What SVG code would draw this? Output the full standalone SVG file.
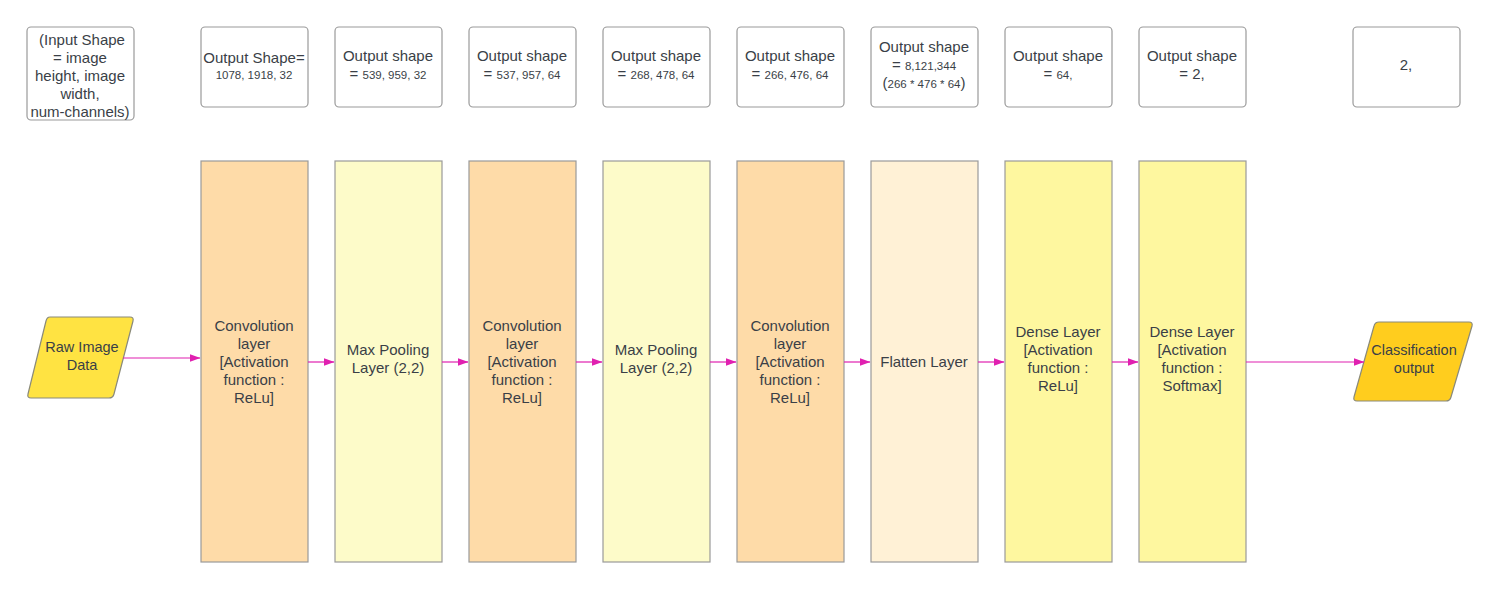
<svg xmlns="http://www.w3.org/2000/svg" width="1500" height="589" viewBox="0 0 1500 589">
<defs>
<style>
.box{fill:#ffffff;stroke:#9a9a9a;stroke-width:1.2}
.lay{stroke:#9a9a9a;stroke-width:1.2}
.conv{fill:#fedba8}
.pool{fill:#fdfbc9}
.flat{fill:#fff1d6}
.dense{fill:#fef79f}
text{font-family:"Liberation Sans",Arial,sans-serif;fill:#3a3f47;text-anchor:middle}
.t{font-size:15px}
.s{font-size:11.5px}
.conn line{stroke:#e020b0;stroke-width:1.2;fill:none}
</style>
<marker id="ah" markerWidth="11" markerHeight="8" refX="10.5" refY="4" orient="auto" markerUnits="userSpaceOnUse">
<path d="M0,0 L11,4 L0,8 Z" fill="#e020b0"/>
</marker>
</defs>
<rect width="1500" height="589" fill="#ffffff"/>

<g id="shape-input">
<rect class="box" x="27" y="27" width="107" height="93" rx="4"/>
<text class="t" x="82" y="45">(Input Shape</text>
<text class="t" x="80" y="63">= image</text>
<text class="t" x="80" y="81">height, image</text>
<text class="t" x="80" y="99">width,</text>
<text class="t" x="80" y="117">num-channels)</text>
</g>
<g id="shape-1">
<rect class="box" x="201" y="27" width="107" height="80" rx="4"/>
<text class="t" x="254" y="63">Output Shape=</text>
<text class="s" x="254" y="79">1078, 1918, 32</text>
</g>
<g id="shape-2">
<rect class="box" x="335" y="27" width="107" height="80" rx="4"/>
<text class="t" x="388" y="61">Output shape</text>
<text x="388" y="79"><tspan class="t">= </tspan><tspan class="s">539, 959, 32</tspan></text>
</g>
<g id="shape-3">
<rect class="box" x="469" y="27" width="107" height="80" rx="4"/>
<text class="t" x="522" y="61">Output shape</text>
<text x="522" y="79"><tspan class="t">= </tspan><tspan class="s">537, 957, 64</tspan></text>
</g>
<g id="shape-4">
<rect class="box" x="603" y="27" width="107" height="80" rx="4"/>
<text class="t" x="656" y="61">Output shape</text>
<text x="656" y="79"><tspan class="t">= </tspan><tspan class="s">268, 478, 64</tspan></text>
</g>
<g id="shape-5">
<rect class="box" x="737" y="27" width="107" height="80" rx="4"/>
<text class="t" x="790" y="61">Output shape</text>
<text x="790" y="79"><tspan class="t">= </tspan><tspan class="s">266, 476, 64</tspan></text>
</g>
<g id="shape-6">
<rect class="box" x="871" y="27" width="107" height="80" rx="4"/>
<text class="t" x="924" y="52">Output shape</text>
<text x="924" y="70"><tspan class="t">= </tspan><tspan class="s">8,121,344</tspan></text>
<text x="924" y="88"><tspan class="t">(</tspan><tspan class="s">266 * 476 * 64</tspan><tspan class="t">)</tspan></text>
</g>
<g id="shape-7">
<rect class="box" x="1005" y="27" width="107" height="80" rx="4"/>
<text class="t" x="1058" y="61">Output shape</text>
<text x="1058" y="79"><tspan class="t">= </tspan><tspan class="s">64,</tspan></text>
</g>
<g id="shape-8">
<rect class="box" x="1139" y="27" width="107" height="80" rx="4"/>
<text class="t" x="1192" y="61">Output shape</text>
<text class="t" x="1192" y="79">= 2,</text>
</g>
<g id="shape-out">
<rect class="box" x="1353" y="27" width="107" height="80" rx="4"/>
<text class="t" x="1406" y="70">2,</text>
</g>

<g id="raw">
<path d="M50,317 L130,317 Q134,317 133,321 L114,394 Q113,398 109,398 L31,398 Q27,398 28,394 L46,321 Q47,317 50,317 Z" fill="#ffe342" stroke="#8a8a7a" stroke-width="1.2"/>
<text class="t" x="82" y="352" style="font-size:14.5px">Raw Image</text>
<text class="t" x="82" y="370" style="font-size:14.5px">Data</text>
</g>

<g id="conv1">
<rect class="lay conv" x="201" y="161" width="107" height="401"/>
<text class="t" x="254" y="331">Convolution</text>
<text class="t" x="254" y="349">layer</text>
<text class="t" x="254" y="367">[Activation</text>
<text class="t" x="254" y="385">function :</text>
<text class="t" x="254" y="403">ReLu]</text>
</g>
<g id="pool1">
<rect class="lay pool" x="335" y="161" width="107" height="401"/>
<text class="t" x="388" y="355">Max Pooling</text>
<text class="t" x="388" y="373">Layer (2,2)</text>
</g>
<g id="conv2">
<rect class="lay conv" x="469" y="161" width="107" height="401"/>
<text class="t" x="522" y="331">Convolution</text>
<text class="t" x="522" y="349">layer</text>
<text class="t" x="522" y="367">[Activation</text>
<text class="t" x="522" y="385">function :</text>
<text class="t" x="522" y="403">ReLu]</text>
</g>
<g id="pool2">
<rect class="lay pool" x="603" y="161" width="107" height="401"/>
<text class="t" x="656" y="355">Max Pooling</text>
<text class="t" x="656" y="373">Layer (2,2)</text>
</g>
<g id="conv3">
<rect class="lay conv" x="737" y="161" width="107" height="401"/>
<text class="t" x="790" y="331">Convolution</text>
<text class="t" x="790" y="349">layer</text>
<text class="t" x="790" y="367">[Activation</text>
<text class="t" x="790" y="385">function :</text>
<text class="t" x="790" y="403">ReLu]</text>
</g>
<g id="flatten">
<rect class="lay flat" x="871" y="161" width="107" height="401"/>
<text class="t" x="924" y="367">Flatten Layer</text>
</g>
<g id="dense1">
<rect class="lay dense" x="1005" y="161" width="107" height="401"/>
<text class="t" x="1058" y="337">Dense Layer</text>
<text class="t" x="1058" y="355">[Activation</text>
<text class="t" x="1058" y="373">function :</text>
<text class="t" x="1058" y="391">ReLu]</text>
</g>
<g id="dense2">
<rect class="lay dense" x="1139" y="161" width="107" height="401"/>
<text class="t" x="1192" y="337">Dense Layer</text>
<text class="t" x="1192" y="355">[Activation</text>
<text class="t" x="1192" y="373">function :</text>
<text class="t" x="1192" y="391">Softmax]</text>
</g>

<g id="classification">
<path d="M1379,322 L1469,322 Q1473,322 1472,326 L1451,397 Q1450,401 1446,401 L1357,401 Q1353,401 1354,397 L1374,326 Q1375,322 1379,322 Z" fill="#ffcd1e" stroke="#8a8a7a" stroke-width="1.2"/>
<text class="t" x="1414" y="355" style="font-size:14.5px">Classification</text>
<text class="t" x="1414" y="373" style="font-size:14.5px">output</text>
</g>

<g class="conn" id="connectors">
<line x1="123" y1="358" x2="200" y2="358" marker-end="url(#ah)"/>
<line x1="308" y1="362" x2="334" y2="362" marker-end="url(#ah)"/>
<line x1="442" y1="362" x2="468" y2="362" marker-end="url(#ah)"/>
<line x1="576" y1="362" x2="602" y2="362" marker-end="url(#ah)"/>
<line x1="710" y1="362" x2="736" y2="362" marker-end="url(#ah)"/>
<line x1="844" y1="362" x2="870" y2="362" marker-end="url(#ah)"/>
<line x1="978" y1="362" x2="1004" y2="362" marker-end="url(#ah)"/>
<line x1="1112" y1="362" x2="1138" y2="362" marker-end="url(#ah)"/>
<line x1="1246" y1="362" x2="1364" y2="362" marker-end="url(#ah)"/>
</g>
</svg>
